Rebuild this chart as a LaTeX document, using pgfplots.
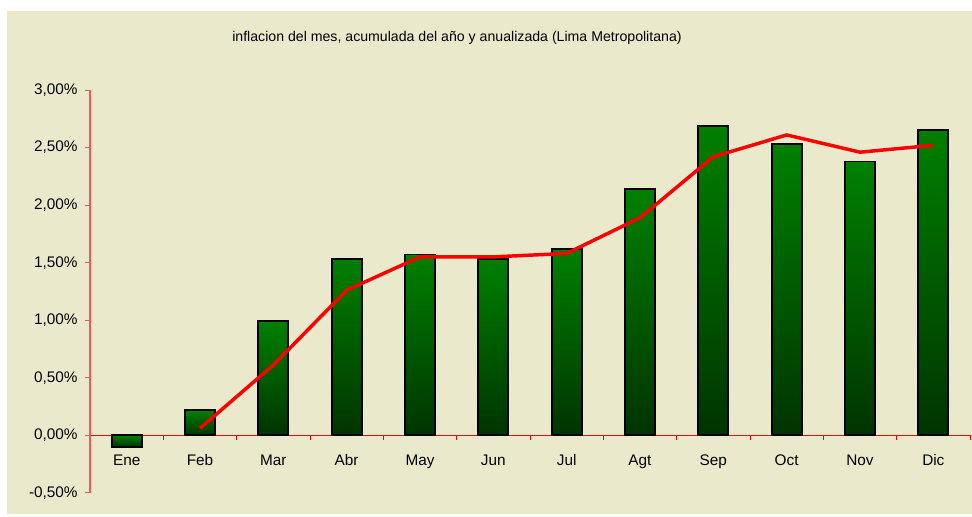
\documentclass[border=0pt]{standalone}
\usepackage{pgfplots}
\pgfplotsset{compat=1.18}
\usepackage{fontspec}
\setmainfont{Liberation Sans}
\definecolor{bg}{RGB}{235,233,203}
\definecolor{bartop}{RGB}{0,128,0}
\definecolor{barbot}{RGB}{0,52,0}
\definecolor{axred}{RGB}{245,85,85}
\pgfplotsset{gbar/.style={ybar, bar shift=0pt, bar width=22.5pt, draw=black, line width=1.3pt, top color=bartop, bottom color=barbot, forget plot}}
\begin{document}
\begin{tikzpicture}
\begin{scope}[x=0.75pt,y=0.75pt]
\fill[white] (0,0) rectangle (972,517);
\useasboundingbox (0,0) rectangle (972,517);
\fill[bg] (7,3) rectangle (972,506);
\node[font=\fontsize{10.6}{12}\selectfont] at (457,479) {inflacion del mes, acumulada del año y anualizada (Lima Metropolitana)};
\end{scope}
\begin{axis}[
  at={(67.5pt,18.2pt)}, anchor=south west,
  scale only axis, width=660pt, height=302pt,
  xmin=-0.5, xmax=11.5, ymin=-0.5, ymax=3,
  axis y line=left, axis x line=middle,
  axis line style={-},
  y axis line style={draw=axred, line width=1.1pt},
  x axis line style={draw=red, line width=0.8pt},
  hide obscured x ticks=false, hide obscured y ticks=false,
  xtick={0,...,11},
  xticklabels={Ene,Feb,Mar,Abr,May,Jun,Jul,Agt,Sep,Oct,Nov,Dic},
  minor xtick={-0.5,0.5,...,11.5},
  major x tick style={draw=none},
  minor x tick style={draw=red, line width=0.6pt},
  minor tick length=3.75pt,
  xtick align=outside,
  xticklabel style={font=\fontsize{11.5}{13}\selectfont, text height=8.5pt, text depth=2.5pt, yshift=-7pt},
  ytick={-0.5,0,0.5,1,1.5,2,2.5,3},
  ytick align=outside,
  major tick length=3.75pt,
  y tick style={draw=axred, line width=0.8pt},
  /pgf/number format/assume math mode=true,
  yticklabel={\pgfmathprintnumber[fixed,fixed zerofill,precision=2,use comma]{\tick}\%},
  yticklabel style={font=\fontsize{11.5}{13}\selectfont, xshift=-2pt},
  clip=false,
]
\addplot[gbar] coordinates {(0,-0.10)};
\addplot[gbar] coordinates {(1,0.22)};
\addplot[gbar] coordinates {(2,0.99)};
\addplot[gbar] coordinates {(3,1.53)};
\addplot[gbar] coordinates {(4,1.57)};
\addplot[gbar] coordinates {(5,1.53)};
\addplot[gbar] coordinates {(6,1.62)};
\addplot[gbar] coordinates {(7,2.14)};
\addplot[gbar] coordinates {(8,2.69)};
\addplot[gbar] coordinates {(9,2.53)};
\addplot[gbar] coordinates {(10,2.38)};
\addplot[gbar] coordinates {(11,2.65)};
\addplot[red, line width=2.6pt, mark=none, line join=round]
  coordinates {(1,0.06) (2,0.61) (3,1.26) (4,1.55) (5,1.55) (6,1.58) (7,1.89) (8,2.42) (9,2.61) (10,2.46) (11,2.52)};
\end{axis}
\end{tikzpicture}
\end{document}
